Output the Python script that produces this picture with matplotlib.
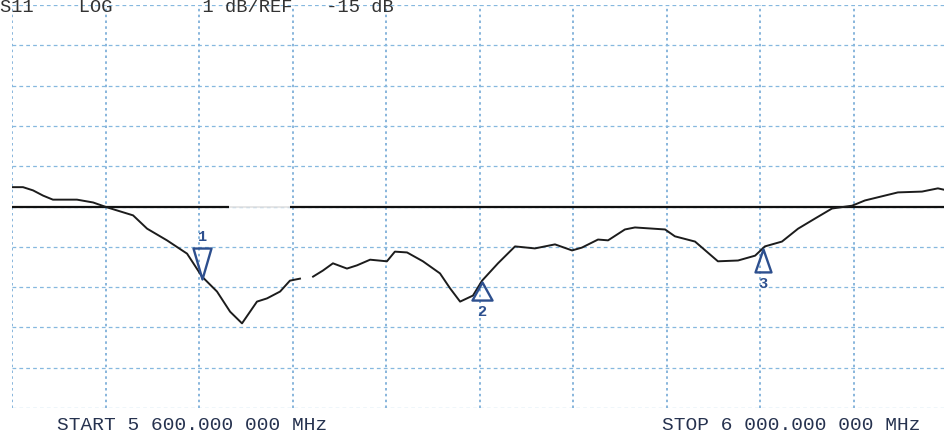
import numpy as np
import matplotlib
matplotlib.use("Agg")
import matplotlib.pyplot as plt
from matplotlib.path import Path

# ---- data ----
freq_mhz = [5600.0, 5604.7, 5609.0, 5613.3, 5617.5, 5627.8, 5634.7, 5640.6, 5651.8, 5657.8,
            5666.3, 5674.9, 5681.3, 5687.7, 5693.3, 5698.4, 5704.8, 5709.1, 5714.7, 5718.9,
            5723.2, 5726.0, 5728.8, 5733.0, 5737.3, 5743.3, 5747.6, 5753.2, 5760.4, 5763.8,
            5769.0, 5775.8, 5783.1, 5787.4, 5791.7, 5797.2, 5801.1, 5807.9, 5815.2, 5823.7,
            5832.3, 5839.6, 5843.8, 5850.7, 5855.0, 5862.2, 5866.5, 5879.4, 5883.6, 5892.2,
            5902.0, 5910.6, 5917.9, 5922.1, 5929.4, 5936.3, 5943.5, 5950.8, 5959.4, 5964.9,
            5979.0, 5989.3, 5996.1, 6000.0]
s11_db = [-14.52, -14.52, -14.60, -14.73, -14.83, -14.83, -14.90, -15.02, -15.22, -15.55,
          -15.84, -16.17, -16.74, -17.11, -17.61, -17.90, -17.36, -17.28, -17.11, -16.84,
          -16.79, np.nan, -16.74, -16.59, -16.41, -16.54, -16.46, -16.32, -16.36, -16.12,
          -16.14, -16.36, -16.66, -17.03, -17.36, -17.21, -16.84, -16.41, -15.99, -16.04,
          -15.94, -16.09, -16.02, -15.82, -15.84, -15.57, -15.52, -15.57, -15.74, -15.87,
          -16.36, -16.34, -16.22, -15.99, -15.87, -15.55, -15.30, -15.05, -14.98, -14.85,
          -14.65, -14.63, -14.55, -14.60]

marker_ids = ["1", "2", "3"]
marker_freq = [5681.3, 5801.1, 5921.3]
marker_db = [-16.80, -16.87, -16.05]

ref_level_db = -15.0
ref_segments = [(5600.0, 5693.0), (5719.0, 6000.0)]
ref_faint = (5693.0, 5719.0)

start_mhz, stop_mhz = 5600.0, 6000.0
db_per_div = 1.0
n_div = 10

header_text = "S11    LOG        1 dB/REF   -15 dB"
start_text = "START 5 600.000 000 MHz"
stop_text = "STOP 6 000.000 000 MHz"

# ---- figure ----
W, H = 945, 434
fig = plt.figure(figsize=(W / 100, H / 100), dpi=100)
fig.patch.set_facecolor("white")
ax = fig.add_axes([12 / W, 26 / H, 935 / W, 403 / H])
ax.set_facecolor("white")
ax.set_xlim(start_mhz, stop_mhz)
ax.set_ylim(ref_level_db - 5 * db_per_div, ref_level_db + 5 * db_per_div)
for s in ax.spines.values():
    s.set_visible(False)
ax.set_xticks(np.linspace(start_mhz, stop_mhz, n_div + 1))
ax.set_yticks(np.linspace(ref_level_db - 5, ref_level_db + 5, n_div + 1))
ax.tick_params(length=0, labelbottom=False, labelleft=False)
ax.xaxis.grid(True, color="#74a9d6", linestyle=(0, (1.5, 2.0)), linewidth=1.2)
ax.yaxis.grid(True, color="#86b8df", linestyle=(0, (3.0, 2.5)), linewidth=0.9)
ax.set_axisbelow(True)

# reference line
for a, b in ref_segments:
    ax.hlines(ref_level_db, a, b, color="#111111", linewidth=1.6, zorder=3)
ax.hlines(ref_level_db, ref_faint[0], ref_faint[1], color="#e2e2e2", linewidth=1.2, zorder=3)

# trace
ax.plot(freq_mhz, s11_db, color="#1c1c1c", linewidth=1.4, zorder=4)

# markers
mcol = "#2d4f8e"
down_tri = Path([(0, 0), (-9, 31), (9, 31), (0, 0)], [1, 2, 2, 79])
up_tri2 = Path([(0, 0), (-10, -18), (10, -18), (0, 0)], [1, 2, 2, 79])
up_tri3 = Path([(0, 0), (-8, -23), (8, -23), (0, 0)], [1, 2, 2, 79])
shapes = [(down_tri, 44.6, 30), (up_tri2, 26, -21.5), (up_tri3, 33, -25.5)]
for mid, f, d, (shape, ms, dy) in zip(marker_ids, marker_freq, marker_db, shapes):
    ax.plot([f], [d], marker=shape, markersize=ms, markerfacecolor="none",
            markeredgecolor=mcol, markeredgewidth=1.7, linestyle="none", zorder=5)
    ax.annotate(mid, (f, d), xytext=(0, dy), textcoords="offset points",
                ha="center", va="center", color=mcol, fontsize=11,
                family="Liberation Mono", fontweight="bold", zorder=6)

# texts
tcol = "#26324f"
fig.text(0.0, 1 - 12 / H, header_text, ha="left", va="baseline", fontsize=13.5,
         family="Liberation Mono", color="#333333")
fig.text(57 / W, 1 - 426 / H, start_text, ha="left", va="center", fontsize=14,
         family="Liberation Mono", color=tcol)
fig.text(662 / W, 1 - 426 / H, stop_text, ha="left", va="center", fontsize=14,
         family="Liberation Mono", color=tcol)

fig.savefig("out.png", dpi=100, facecolor="white")
